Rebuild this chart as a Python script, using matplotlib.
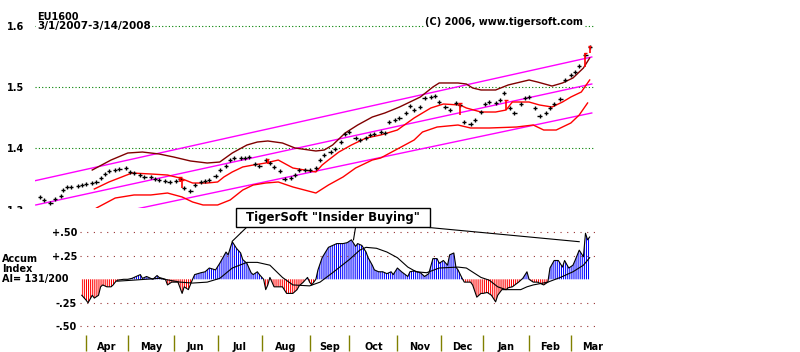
import matplotlib
matplotlib.use('Agg')
import matplotlib.pyplot as plt
from matplotlib.patches import Rectangle
import numpy as np

plt.rcParams['font.family'] = ['DejaVu Sans']
plt.rcParams['font.weight'] = 'bold'
plt.rcParams['hatch.linewidth'] = 0.75

# trading day index counted from 3/1/2007
price_days = [0, 2, 5, 7, 10, 11, 13, 15, 18, 20, 22, 25, 27, 29, 31, 33, 36, 38, 41, 43,
              45, 48, 50, 53, 55, 57, 60, 62, 65, 67, 69, 72, 74, 77, 79, 81, 84, 86, 89, 91,
              93, 96, 98, 100, 103, 105, 108, 110, 112, 115, 117, 120, 122, 124, 127, 129, 132, 134, 136, 139,
              141, 144, 146, 148, 151, 153, 156, 158, 160, 163, 165, 167, 170, 172, 175, 177, 179, 182, 184, 187,
              189, 191, 194, 196, 199, 201, 203, 206, 208, 211, 213, 215, 218, 220, 222, 225, 227, 230, 232, 234,
              237, 239, 242, 244, 246, 249, 251, 254, 256, 258, 261, 263]
price_close = [1.3197, 1.3148, 1.3098, 1.3164, 1.3213, 1.3311, 1.3361, 1.3361, 1.3377, 1.3393,
               1.3410, 1.3426, 1.3443, 1.3508, 1.3574, 1.3623, 1.3639, 1.3656, 1.3672, 1.3607,
               1.3590, 1.3557, 1.3525, 1.3525, 1.3492, 1.3475, 1.3459, 1.3443, 1.3459, 1.3492,
               1.3344, 1.3295, 1.3393, 1.3443, 1.3459, 1.3475, 1.3541, 1.3639, 1.3705, 1.3803,
               1.3836, 1.3836, 1.3836, 1.3852, 1.3738, 1.3705, 1.3803, 1.3754, 1.3689, 1.3623,
               1.3492, 1.3508, 1.3557, 1.3639, 1.3639, 1.3639, 1.3672, 1.3803, 1.3885, 1.3934,
               1.3984, 1.4098, 1.4230, 1.4262, 1.4164, 1.4131, 1.4164, 1.4213, 1.4230, 1.4262,
               1.4246, 1.4426, 1.4459, 1.4492, 1.4574, 1.4689, 1.4623, 1.4672, 1.4820, 1.4836,
               1.4852, 1.4754, 1.4672, 1.4623, 1.4738, 1.4705, 1.4426, 1.4393, 1.4459, 1.4590,
               1.4721, 1.4754, 1.4738, 1.4787, 1.4902, 1.4656, 1.4574, 1.4721, 1.4820, 1.4836,
               1.4656, 1.4525, 1.4574, 1.4656, 1.4721, 1.4803, 1.5115, 1.5197, 1.5246, 1.5344,
               1.5525, 1.5656]

# red signal bars
red_days = [67, 68, 109, 201, 223, 261, 263]
red_high = [1.3525, 1.3475, 1.3820, 1.4738, 1.4787, 1.5557, 1.5672]
red_low = [1.3443, 1.3344, 1.3738, 1.4541, 1.4623, 1.5328, 1.5557]

# bands
upper_days = [25, 34, 42, 49, 57, 64, 72, 80, 86, 92, 99, 104, 109, 116, 122, 132, 136, 140, 146, 152,
              159, 165, 172, 182, 188, 191, 200, 204, 207, 211, 218, 224, 234, 238, 245, 250, 255, 260, 263]
upper_vals = [1.3639, 1.3803, 1.3918, 1.3934, 1.3902, 1.3852, 1.3787, 1.3754, 1.3770, 1.3918,
              1.4049, 1.4098, 1.4115, 1.4082, 1.4000, 1.3951, 1.3967, 1.4049, 1.4246, 1.4377,
              1.4508, 1.4574, 1.4672, 1.4836, 1.5000, 1.5066, 1.5066, 1.5049, 1.4984, 1.4951,
              1.4951, 1.5033, 1.5115, 1.5082, 1.5016, 1.5066, 1.5148, 1.5311, 1.5475]
mid_days = [26, 33, 44, 53, 61, 67, 73, 80, 85, 88, 92, 97, 102, 108, 114, 121, 132, 135, 138, 143,
            149, 156, 163, 171, 179, 187, 193, 201, 204, 211, 218, 223, 226, 234, 239, 245, 250, 254, 259, 263]
mid_vals = [1.3328, 1.3443, 1.3590, 1.3574, 1.3557, 1.3508, 1.3426, 1.3426, 1.3443, 1.3525,
            1.3607, 1.3689, 1.3721, 1.3754, 1.3803, 1.3672, 1.3607, 1.3721, 1.3803, 1.3934,
            1.4049, 1.4164, 1.4213, 1.4295, 1.4492, 1.4656, 1.4721, 1.4705, 1.4656, 1.4590,
            1.4590, 1.4623, 1.4754, 1.4754, 1.4705, 1.4672, 1.4754, 1.4836, 1.4918, 1.5115]
low_days = [27, 36, 45, 53, 61, 68, 73, 78, 85, 91, 97, 102, 108, 114, 121, 132, 138, 145, 151, 159,
            163, 179, 183, 190, 200, 206, 215, 228, 236, 241, 247, 254, 258, 262]
low_vals = [1.3016, 1.3180, 1.3230, 1.3230, 1.3262, 1.3197, 1.3115, 1.3066, 1.3066, 1.3148,
            1.3311, 1.3393, 1.3426, 1.3443, 1.3361, 1.3262, 1.3393, 1.3525, 1.3672, 1.3803,
            1.3836, 1.4131, 1.4262, 1.4344, 1.4377, 1.4328, 1.4328, 1.4344, 1.4377, 1.4295,
            1.4295, 1.4410, 1.4541, 1.4738]

# linear channel lines
chan_start_day = [-3, -2, 46]
chan_start_val = [1.3459, 1.3066, 1.3000]
chan_end_day = [264, 264, 264]
chan_end_val = [1.5492, 1.5049, 1.4574]

# accumulation index
ai_days = [20, 22, 23, 25, 26, 28, 29, 30, 32, 34, 35, 36, 37, 40, 42, 44, 46, 48, 49, 51,
           54, 56, 57, 60, 61, 63, 66, 68, 69, 71, 73, 74, 77, 79, 81, 84, 86, 89, 90, 92,
           94, 96, 97, 99, 101, 102, 104, 105, 107, 108, 109, 110, 112, 113, 116, 118, 121, 123, 124, 126,
           128, 129, 130, 132, 133, 135, 138, 140, 142, 145, 147, 149, 151, 152, 154, 156, 157, 159, 160, 162,
           164, 166, 168, 169, 171, 173, 176, 177, 179, 182, 184, 186, 188, 190, 191, 193, 195, 196, 198, 199,
           200, 202, 203, 206, 207, 209, 211, 212, 214, 216, 218, 219, 221, 223, 224, 226, 229, 231, 233, 234,
           236, 238, 241, 243, 244, 246, 248, 250, 251, 253, 255, 256, 258, 260, 261, 262, 263]
ai_vals = [-0.17, -0.22, -0.25, -0.17, -0.20, -0.17, -0.08, -0.06, -0.08, -0.08, -0.06, -0.03, -0.01, 0.0, 0.0, 0.01, 0.03, 0.05, 0.01, 0.03,
           0.0, 0.04, 0.02, 0.0, -0.06, -0.03, -0.03, -0.15, -0.08, -0.11, 0.0, 0.05, 0.07, 0.08, 0.12, 0.10, 0.17, 0.29, 0.26, 0.40,
           0.33, 0.28, 0.21, 0.17, 0.07, 0.05, 0.08, 0.05, 0.0, -0.11, -0.06, 0.02, -0.08, -0.08, -0.08, -0.15, -0.15, -0.11, -0.07, -0.03,
           0.02, -0.03, -0.06, 0.0, 0.10, 0.23, 0.34, 0.36, 0.38, 0.38, 0.39, 0.42, 0.35, 0.38, 0.36, 0.29, 0.23, 0.15, 0.10, 0.08,
           0.08, 0.06, 0.08, 0.05, 0.12, 0.08, 0.03, 0.08, 0.09, 0.07, 0.03, 0.06, 0.22, 0.22, 0.17, 0.20, 0.15, 0.26, 0.28, 0.13,
           0.10, 0.01, -0.03, -0.03, -0.06, -0.19, -0.15, -0.15, -0.14, -0.17, -0.24, -0.17, -0.11, -0.11, -0.09, -0.08, -0.03, 0.01, 0.08, 0.0,
           -0.03, -0.03, -0.06, -0.03, 0.12, 0.20, 0.20, 0.13, 0.20, 0.12, 0.15, 0.20, 0.31, 0.24, 0.49, 0.42, 0.45]
ma_days = [37, 44, 57, 67, 73, 80, 86, 92, 99, 104, 110, 116, 121, 129, 134, 140, 148, 153, 156, 161,
           166, 171, 176, 180, 185, 191, 200, 204, 211, 215, 219, 223, 230, 233, 236, 243, 249, 255, 260, 263]
ma_vals = [-0.02, -0.01, 0.01, -0.03, -0.04, -0.03, 0.01, 0.12, 0.18, 0.18,
           0.15, 0.02, -0.06, -0.07, -0.03, 0.07, 0.21, 0.31, 0.34, 0.33,
           0.29, 0.23, 0.13, 0.08, 0.07, 0.12, 0.13, 0.12, 0.02, -0.01,
           -0.08, -0.11, -0.11, -0.08, -0.06, -0.03, 0.02, 0.08, 0.15, 0.23]

month_names = ['Apr', 'May', 'Jun', 'Jul', 'Aug', 'Sep', 'Oct', 'Nov', 'Dec', 'Jan', 'Feb', 'Mar']
month_starts = [22, 42, 64, 85, 106, 129, 148, 171, 192, 212, 234, 254]

ann_text = 'TigerSoft "Insider Buying"'
ann_days = [92, 150, 258]
ann_vals = [0.405, 0.42, 0.40]

side_labels = ['Accum', 'Index', 'AI= 131/200']

W, H = 800.0, 352.0
fig = plt.figure(figsize=(8, 3.52), dpi=100)

# ---- price panel
ax = fig.add_axes([35 / W, 1 - 208 / H, 560 / W, 203 / H])
ax.set_xlim(-2.39, 265.55)
ax.set_ylim(1.30164, 1.63443)
ax.patch.set_visible(False)
for s in ax.spines.values():
    s.set_visible(False)
ax.set_xticks([])
ax.set_yticks([1.4, 1.5, 1.6])
ax.set_yticklabels(['1.4', '1.5', '1.6'])
ax.tick_params(axis='y', length=0, pad=8, labelsize=7)
ax.grid(axis='y', color='#008000', linestyle=(0, (1, 2)), linewidth=0.8)

for d0, v0, d1, v1 in zip(chan_start_day, chan_start_val, chan_end_day, chan_end_val):
    ax.plot([d0, d1], [v0, v1], color='#ff00ff', lw=1.0)
ax.plot(upper_days, upper_vals, color='#800000', lw=1.0)
ax.plot(mid_days, mid_vals, color='#ff0000', lw=1.0)
ax.plot(low_days, low_vals, color='#ff0000', lw=1.0)

pd_ = np.array(price_days)
pc = np.array(price_close)
ax.vlines(pd_, pc - 0.004, pc + 0.004, color='black', lw=1.0)
ax.hlines(pc, pd_ - 1.0, pd_ + 1.0, color='black', lw=1.0)
ax.vlines(red_days, red_low, red_high, color='#ff0000', lw=1.2)
ax.hlines(red_high, np.array(red_days) - 0.8, np.array(red_days) + 0.8, color='#ff0000', lw=1.0)

fig.text(37 / W, 1 - 20 / H, 'EU1600', fontsize=7, va='baseline')
fig.text(37 / W, 1 - 29 / H, '3/1/2007-3/14/2008', fontsize=7.5, va='baseline',
         bbox=dict(facecolor='white', edgecolor='none', pad=0.6))
fig.text(425 / W, 1 - 25 / H, '(C) 2006, www.tigersoft.com', fontsize=7, va='baseline',
         bbox=dict(facecolor='white', edgecolor='none', pad=0.6))
fig.text(24 / W, 1 - 211 / H, '1.3', fontsize=7, ha='right', va='center')
fig.add_artist(Rectangle((0, 1 - 224 / H), 34 / W, 15 / H, transform=fig.transFigure,
                         facecolor='white', edgecolor='none', zorder=5))

# ---- accumulation panel
ax2 = fig.add_axes([80 / W, 0, 515 / W, 144 / H])
ax2.set_xlim(19.14, 265.55)
ax2.set_ylim(-0.7734, 0.7585)
ax2.patch.set_visible(False)
for s in ax2.spines.values():
    s.set_visible(False)
ax2.set_xticks([])
ax2.set_yticks([0.5, 0.25, -0.25, -0.5])
ax2.set_yticklabels(['+.50', '+.25', '-.25', '-.50'])
ax2.tick_params(axis='y', length=0, pad=2, labelsize=7)
ax2.grid(axis='y', color='#993333', linestyle=(0, (1, 5)), linewidth=0.8)

ad = np.array(ai_days)
av = np.array(ai_vals)
with plt.rc_context({'hatch.color': '#0000ff'}):
    ax2.fill_between(ad, 0, av, where=av >= 0, interpolate=True, facecolor='none',
                     edgecolor='#0000ff', linewidth=0, hatch='|' * 8)
with plt.rc_context({'hatch.color': '#ff0000'}):
    ax2.fill_between(ad, 0, av, where=av <= 0, interpolate=True, facecolor='none',
                     edgecolor='#ff0000', linewidth=0, hatch='|' * 8)
ax2.plot(ad, av, color='black', lw=0.8)
ax2.plot(ma_days, ma_vals, color='black', lw=0.8)

# annotation box and pointers
ax2.add_patch(Rectangle((93.8, 0.556), 92.8, 0.2, facecolor='white', edgecolor='black',
                        lw=1.0, clip_on=False, zorder=4))
ax2.text(140.2, 0.655, ann_text, fontsize=8.5, ha='center', va='center', zorder=5)
starts = [(99, 0.556), (151, 0.556), (186.6, 0.55)]
for (sx, sy), tx, ty in zip(starts, ann_days, ann_vals):
    ax2.plot([sx, tx], [sy, ty], color='black', lw=0.8, clip_on=False)

# months
ax2.vlines(month_starts, -0.76, -0.593, color='#808000', lw=1.0)
ends = month_starts[1:] + [month_starts[-1] + 21]
for name, a, b in zip(month_names, month_starts, ends):
    ax2.text((a + b) / 2, -0.75, name, fontsize=7, ha='center', va='baseline')

# side labels, one per line
for i, lbl in enumerate(side_labels):
    fig.text(2 / W, 1 - (262 + 10 * i) / H, lbl, fontsize=7, va='baseline')

fig.savefig('out.png', dpi=100, facecolor='white')
